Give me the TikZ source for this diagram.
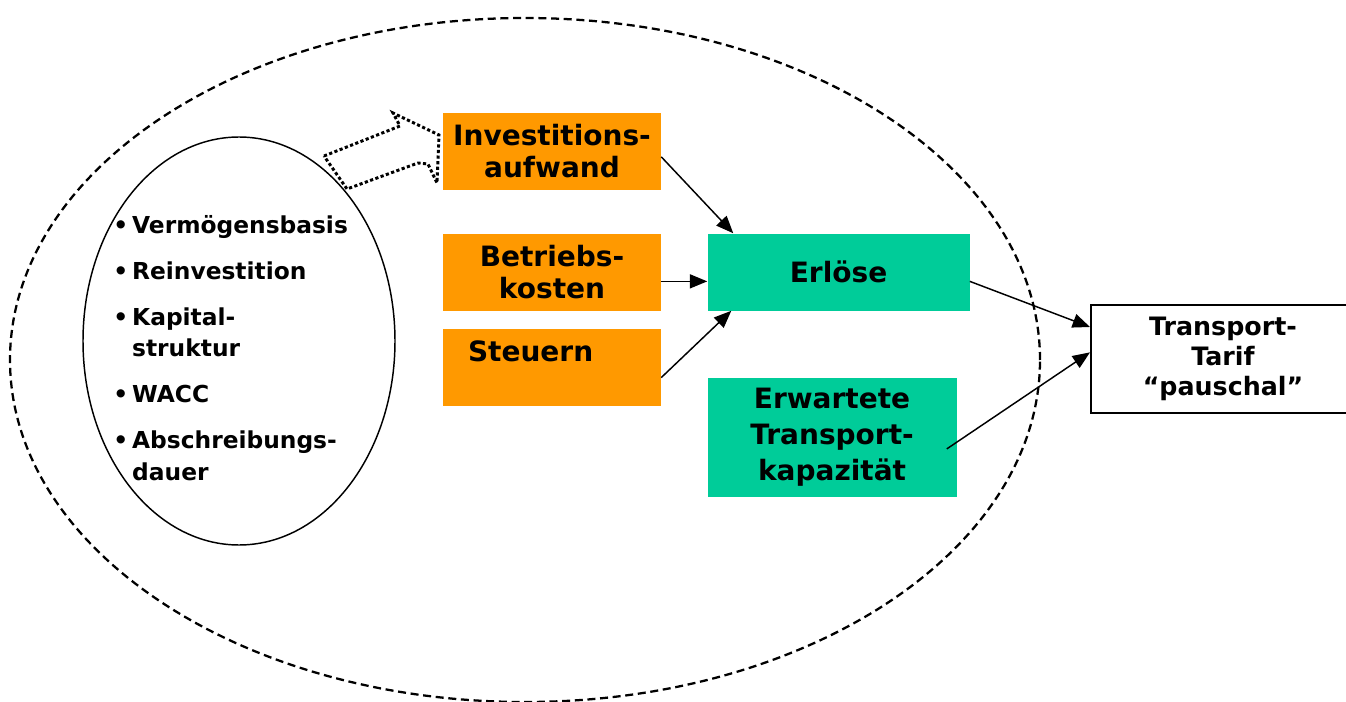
\documentclass[tikz,border=0pt]{standalone}
\usepackage{fontspec}
\setmainfont{DejaVu Sans}
\usetikzlibrary{shapes.geometric, arrows.meta, positioning}
\definecolor{costorange}{RGB}{255,153,0}
\definecolor{revgreen}{RGB}{0,204,153}
\tikzstyle{costbox} = [rectangle, 
			fill=costorange, 
			align=center, 
			inner sep=0pt, 
			minimum width=163.5pt, 
			minimum height=57.75pt, 
			font=\fontsize{21}{24}\selectfont\bfseries]
\tikzstyle{revbox} = [rectangle, 
			fill=revgreen, 
			align=center, 
			inner sep=0pt, 
			font=\fontsize{21}{27}\selectfont\bfseries]
\tikzstyle{tarifbox} = [rectangle, 
			draw, 
			line width=1.5pt, 
			align=center, 
			inner sep=0pt, 
			minimum width=198pt, 
			minimum height=81pt, 
			font=\fontsize{19}{22.5}\selectfont\bfseries]
\tikzstyle{flow} = [-{Triangle[length=13pt,width=10.5pt]}, line width=1.1pt]
\tikzstyle{fatarrow} = [line width=2.2pt, dash pattern=on 2.4pt off 1.8pt]

\begin{document}
\begin{tikzpicture}[x=0.75pt, y=-0.75pt, node distance=32.25pt]
	\useasboundingbox (0,0) rectangle (1346,702);
	% outer scope and basis ellipse
	\node [ellipse, draw, line width=1.7pt, dash pattern=on 6pt off 3.5pt, 
		inner sep=0pt, minimum width=772.5pt, minimum height=513pt] (scope) at (525,360) {};
	\node [ellipse, draw, line width=1.1pt, inner sep=0pt, 
		minimum width=234pt, minimum height=306pt] (basis) at (239,341) {};
	\node [anchor=west, inner sep=0pt, font=\fontsize{17.5}{23.5}\selectfont\bfseries] (items) at (113,350.5) {%
		\begin{tabular}{@{}l@{\hspace{3pt}}l@{}}
		\textbullet & Vermögensbasis\\[11pt]
		\textbullet & Reinvestition\\[11pt]
		\textbullet & Kapital-\\
		            & struktur\\[11pt]
		\textbullet & WACC\\[11pt]
		\textbullet & Abschreibungs-\\
		            & dauer
		\end{tabular}};
	% hollow arrow
	\draw [fatarrow] (324,156) -- (400,126) -- (393,113) -- (439,135) -- (437,183)
		-- (428,164) -- (418,163) -- (347,189) -- cycle;
	% boxes
	\node [costbox] (inv) at (552,151.5) {Investitions-\\aufwand};
	\node [costbox, below=of inv] (betr) {Betriebs-\\kosten};
	\node [costbox, below=13.5pt of betr, align=left, inner xsep=18pt, text width=126pt] (steu) {Steuern\\\mbox{}};
	\node [revbox, right=34.5pt of betr, minimum width=196.5pt, minimum height=57.75pt] (erl) {Erlöse};
	\node [revbox, below=50.25pt of erl.south west, anchor=north west, 
		minimum width=186.75pt, minimum height=89.25pt] (erw) {Erwartete\\Transport-\\kapazität};
	\node [tarifbox] (tarif) at (1223,359) {Transport-\\Tarif\\“pauschal”};
	% connectors
	\draw [flow] ([yshift=-4pt]inv.east) -- ([xshift=19.5pt]erl.north west);
	\draw [flow] ([yshift=-7pt]betr.east) -- ([yshift=-7pt]erl.west);
	\draw [flow] ([yshift=-7.5pt]steu.east) -- ([xshift=18pt]erl.south west);
	\draw [flow] ([yshift=-7pt]erl.east) -- ([yshift=24pt]tarif.west);
	\draw [flow] ([xshift=-7.5pt,yshift=-8.5pt]erw.east) -- ([yshift=5pt]tarif.west);
\end{tikzpicture}
\end{document}
